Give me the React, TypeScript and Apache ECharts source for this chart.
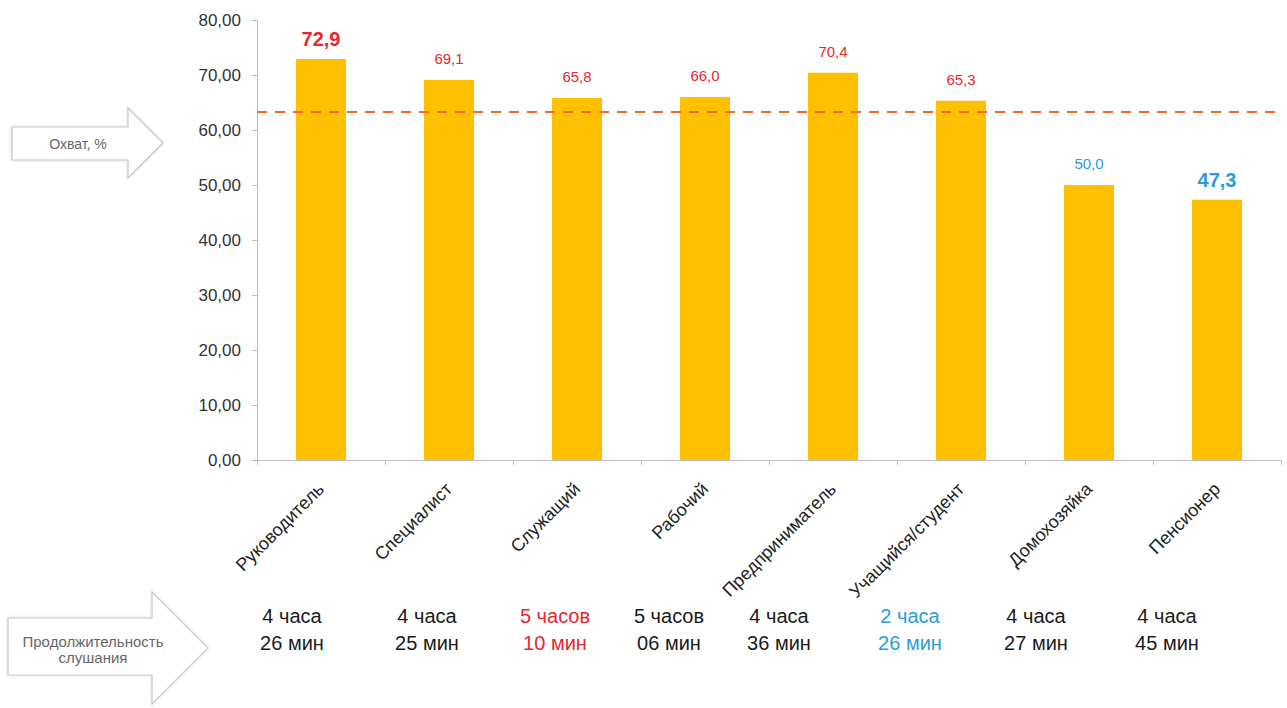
import React, { useEffect, useRef } from "react";
import * as echarts from "echarts";

const categories = ["Руководитель", "Специалист", "Служащий", "Рабочий", "Предприниматель", "Учащийся/студент", "Домохозяйка", "Пенсионер"];
const coverage = [72.9, 69.1, 65.8, 66.0, 70.4, 65.3, 50.0, 47.3];
const average = 63.4;
// label tone: "up" = above average (red), "down" = below average (blue); bold = extreme
const labelTone = ["up", "up", "up", "up", "up", "up", "down", "down"];
const labelBold = [true, false, false, false, false, false, false, true];
const durationHours = ["4 часа", "4 часа", "5 часов", "5 часов", "4 часа", "2 часа", "4 часа", "4 часа"];
const durationMinutes = ["26 мин", "25 мин", "10 мин", "06 мин", "36 мин", "26 мин", "27 мин", "45 мин"];
const durationTone = ["normal", "normal", "up", "normal", "normal", "down", "normal", "normal"];
const yTicks = { min: 0, max: 80, interval: 10 };

const RED = "#e8262e";
const BLUE = "#2b9cd8";
const DARK = "#1a1a1a";
const FONT = "'Liberation Sans', Arial, sans-serif";

export default function App() {
  const ref = useRef<HTMLDivElement>(null);
  useEffect(() => {
    if (!ref.current) return;
    const chart = echarts.init(ref.current, undefined, { renderer: "svg" });
    const toneColor = (t: string) => (t === "up" ? RED : t === "down" ? BLUE : DARK);
    const durationX = [292, 427, 555, 669, 779, 910, 1036, 1167];
    const graphics: any[] = [
      {
        type: "polygon",
        shape: { points: [[12, 127], [128, 127], [128, 108], [163, 143], [128, 178], [128, 160], [12, 160]] },
        style: { fill: "#ffffff", stroke: "#c3c8d6", lineWidth: 1.2, shadowBlur: 3, shadowColor: "rgba(0,0,0,0.15)" },
      },
      {
        type: "text",
        x: 78, y: 144,
        style: { text: "Охват, %", font: `14px ${FONT}`, fill: "#666", align: "center", verticalAlign: "middle" },
      },
      {
        type: "polygon",
        shape: { points: [[8, 618], [152, 618], [152, 592], [208, 648], [152, 704], [152, 675], [8, 675]] },
        style: { fill: "#ffffff", stroke: "#c3c8d6", lineWidth: 1.2, shadowBlur: 3, shadowColor: "rgba(0,0,0,0.15)" },
      },
      {
        type: "text",
        x: 93, y: 649,
        style: { text: "Продолжительность\nслушания", font: `15px ${FONT}`, fill: "#666", align: "center", verticalAlign: "middle", lineHeight: 16 },
      },
    ];
    durationHours.forEach((h, i) => {
      graphics.push({
        type: "text",
        x: durationX[i], y: 629,
        style: {
          text: h + "\n" + durationMinutes[i],
          font: `20px ${FONT}`,
          fill: toneColor(durationTone[i]),
          align: "center",
          verticalAlign: "middle",
          lineHeight: 27,
        },
      });
    });

    chart.setOption({
      animation: false,
      grid: { left: 257, right: 6, top: 20, bottom: 248, containLabel: false },
      xAxis: {
        type: "category",
        data: categories,
        axisLine: { lineStyle: { color: "#bfbfbf" } },
        axisTick: { show: true, lineStyle: { color: "#bfbfbf" }, length: 5 },
        axisLabel: { rotate: 45, fontSize: 18, color: "#222", fontFamily: FONT, margin: 26, interval: 0 },
      },
      yAxis: {
        type: "value",
        min: yTicks.min,
        max: yTicks.max,
        interval: yTicks.interval,
        axisLine: { show: true, lineStyle: { color: "#bfbfbf" } },
        axisTick: { show: true, lineStyle: { color: "#bfbfbf" }, length: 5 },
        splitLine: { show: false },
        axisLabel: {
          fontSize: 17, color: "#333", fontFamily: FONT, margin: 16,
          formatter: (v: number) => v.toFixed(2).replace(".", ","),
        },
      },
      series: [
        {
          type: "bar",
          barWidth: 50,
          itemStyle: { color: "#FFC000" },
          data: coverage.map((v, i) => ({
            value: v,
            label: {
              show: true,
              position: "top",
              distance: labelBold[i] ? 10 : 14,
              formatter: () => v.toFixed(1).replace(".", ","),
              color: labelTone[i] === "up" ? RED : BLUE,
              fontSize: labelBold[i] ? 20 : 15,
              fontWeight: labelBold[i] ? "bold" : "normal",
              fontFamily: FONT,
            },
          })),
          markLine: {
            silent: true,
            symbol: "none",
            label: { show: false },
            lineStyle: { color: "#f06a30", type: [10, 8], width: 2 },
            data: [{ yAxis: average }],
          },
        },
      ],
      graphic: graphics,
    });
    return () => chart.dispose();
  }, []);
  return <div ref={ref} style={{ width: 1287, height: 708, position: "absolute", left: 0, top: 0 }} />;
}
